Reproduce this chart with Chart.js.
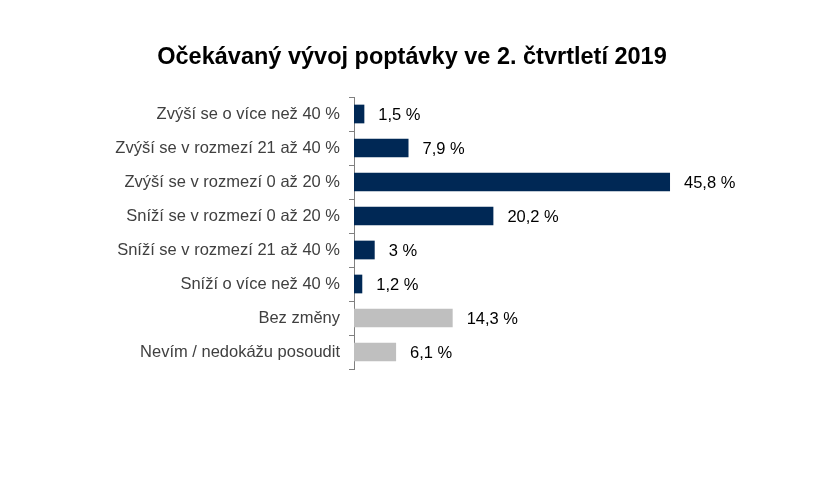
<!DOCTYPE html>
<html><head><meta charset="utf-8">
<script src="https://cdn.jsdelivr.net/npm/chart.js@4"></script>
<style>html,body{margin:0;background:#fff}#w{width:840px;height:480px}</style>
</head><body><div id="w"><canvas id="c"></canvas></div>
<script>
const categories = ["Zvýší se o více než 40 %","Zvýší se v rozmezí 21 až 40 %","Zvýší se v rozmezí 0 až 20 %","Sníží se v rozmezí 0 až 20 %","Sníží se v rozmezí 21 až 40 %","Sníží o více než 40 %","Bez změny","Nevím / nedokážu posoudit"];
const values = [1.5,7.9,45.8,20.2,3,1.2,14.3,6.1];
const colors = ["#002855","#002855","#002855","#002855","#002855","#002855","#bfbfbf","#bfbfbf"];
const titleText = 'Očekávaný vývoj poptávky ve 2. čtvrtletí 2019';
const fmt = v => String(v).replace('.', ',') + ' %';
const labelPlugin = {id:'lbl', afterDatasetsDraw(chart){
  const ctx=chart.ctx; ctx.save(); ctx.font='16.5px "Liberation Sans", Arial'; ctx.fillStyle='#000'; ctx.textBaseline='middle';
  chart.getDatasetMeta(0).data.forEach((b,i)=>{ctx.fillText(fmt(values[i]), b.x+14, b.y+1);});
  ctx.font='bold 23.5px "Liberation Sans", Arial'; ctx.textAlign='center';
  ctx.fillText(titleText, 412, 58);
  ctx.restore();}};
new Chart(document.getElementById('c'),{type:'bar',
 data:{labels:categories,datasets:[{data:values,backgroundColor:colors,barPercentage:0.55,categoryPercentage:1}]},
 options:{indexAxis:'y',responsive:true,maintainAspectRatio:false,animation:false,
  layout:{padding:{left:0,right:72,top:97,bottom:111}},
  plugins:{legend:{display:false},tooltip:{enabled:false},title:{display:false}},
  scales:{x:{min:0,max:60,display:false},
   y:{afterFit(s){s.width=354;},border:{color:'#808080'},grid:{offset:true,drawOnChartArea:false,color:'#808080',tickLength:5},
    ticks:{color:'#404040',padding:9,font:{family:'"Liberation Sans", Arial',size:16.5}}}}},
 plugins:[labelPlugin]});
</script></body></html>
